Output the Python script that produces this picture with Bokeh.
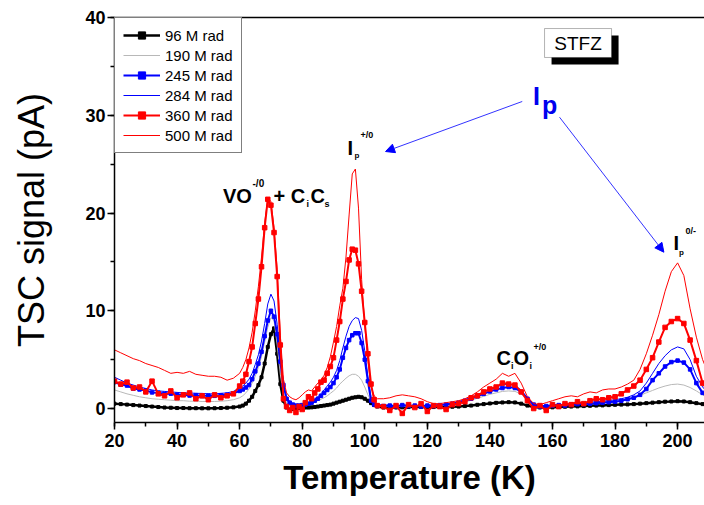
from bokeh.plotting import figure
from bokeh.models import (Range1d, LinearAxis, SingleIntervalTicker, FixedTicker,
                          Label, Arrow, NormalHead, BoxAnnotation)
from bokeh.embed import file_html
from bokeh.resources import INLINE

FONT = "Liberation Sans"

# Temperature sampling (K): coarse on the flat parts, 1 K through the two sharp peaks
temperature = list(range(20, 61, 2)) + list(range(61, 105)) + list(range(106, 211, 2))

# TSC signal (pA) for each irradiation dose
tsc_96 = [0.5, 0.45, 0.4, 0.35, 0.3, 0.25, 0.2, 0.15, 0.1, 0.08, 0.05, 0.05, 0.03, 0.03, 0.02, 0.02, 0.03, 0.05, 0.08, 0.12, 0.2,
          0.3, 0.5, 0.8, 1.2, 1.8, 2.4, 3.2, 4.6, 6.3, 7.6, 8.2, 5.6, 2.5, 0.8,
          0.1, -0.1, -0.05, 0.0, 0.05, 0.1, 0.1, 0.1, 0.12, 0.15,
          0.2, 0.25, 0.3, 0.35, 0.4, 0.5, 0.6, 0.7, 0.8, 0.9,
          1.0, 1.1, 1.15, 1.2, 1.15, 1.0, 0.8, 0.55, 0.35, 0.2,
          0.1, 0.08, 0.1, 0.12, 0.15, 0.15, 0.15, 0.15, 0.15, 0.15,
          0.15, 0.18, 0.2, 0.25, 0.3, 0.38, 0.45, 0.52, 0.58, 0.62,
          0.65, 0.62, 0.5, 0.3, 0.15, 0.1, 0.1, 0.12, 0.15, 0.18,
          0.2, 0.22, 0.25, 0.28, 0.3, 0.32, 0.35, 0.38, 0.4, 0.42,
          0.45, 0.5, 0.55, 0.6, 0.65, 0.7, 0.72, 0.75, 0.72, 0.65,
          0.55, 0.45, 0.38]

tsc_190 = [1.9, 1.7, 1.5, 1.35, 1.2, 1.1, 1.0, 0.95, 0.9, 0.85, 0.8, 0.8, 0.75, 0.75, 0.72, 0.72, 0.72, 0.75, 0.8, 0.9, 1.1,
           1.3, 1.6, 2.0, 2.6, 3.3, 4.2, 5.3, 6.8, 8.3, 9.3, 9.0, 6.5, 3.5, 1.5,
           0.6, 0.3, 0.25, 0.3, 0.35, 0.4, 0.45, 0.5, 0.6, 0.7,
           0.8, 0.95, 1.1, 1.3, 1.55, 1.8, 2.1, 2.5, 2.8, 3.1,
           3.35, 3.5, 3.5, 3.3, 2.9, 2.2, 1.4, 0.8, 0.45, 0.3,
           0.2, 0.2, 0.2, 0.2, 0.25, 0.25, 0.25, 0.25, 0.3, 0.3,
           0.35, 0.4, 0.5, 0.65, 0.85, 1.05, 1.25, 1.45, 1.6, 1.75,
           1.8, 1.75, 1.5, 1.0, 0.5, 0.3, 0.25, 0.3, 0.35, 0.4,
           0.45, 0.5, 0.55, 0.6, 0.65, 0.7, 0.75, 0.8, 0.9, 1.0,
           1.15, 1.35, 1.6, 1.85, 2.1, 2.3, 2.45, 2.5, 2.4, 2.15,
           1.8, 1.4, 1.0]

tsc_245 = [2.7, 2.45, 2.35, 2.05, 1.95, 1.85, 1.65, 1.62, 1.5, 1.52, 1.42, 1.4, 1.33, 1.37, 1.28, 1.32, 1.3, 1.36, 1.42, 1.55, 1.8,
           1.95, 2.15, 2.4, 3.0, 3.8, 4.6, 5.8, 7.4, 9.0, 10.0, 9.4, 7.6, 4.8, 2.4,
           1.0, 0.6, 0.4, 0.3, 0.3, 0.35, 0.4, 0.5, 0.6, 0.8,
           1.0, 1.3, 1.6, 1.9, 2.2, 2.6, 3.2, 4.0, 5.2, 6.2,
           7.0, 7.5, 7.7, 7.7, 6.7, 5.0, 2.8, 0.8, 0.4, 0.3,
           0.25, 0.3, 0.2, 0.35, 0.25, 0.3, 0.2, 0.3, 0.25, 0.35,
           0.4, 0.5, 0.6, 0.8, 1.0, 1.25, 1.5, 1.75, 1.95, 2.1,
           2.2, 2.1, 1.7, 1.0, 0.4, 0.2, 0.25, 0.3, 0.35, 0.3,
           0.4, 0.45, 0.45, 0.5, 0.55, 0.6, 0.65, 0.7, 0.8, 0.95,
           1.1, 1.4, 2.0, 2.9, 3.6, 4.3, 4.75, 4.9, 4.7, 4.0,
           2.6, 1.6, 1.0]

tsc_284 = [3.2, 2.9, 2.6, 2.4, 2.2, 2.05, 1.9, 1.8, 1.75, 1.7, 1.65, 1.6, 1.6, 1.55, 1.55, 1.5, 1.5, 1.55, 1.6, 1.75, 2.1,
           2.3, 2.6, 3.0, 3.6, 4.5, 5.5, 6.9, 8.7, 10.7, 11.7, 11.0, 8.6, 5.3, 2.6,
           1.2, 0.7, 0.5, 0.4, 0.4, 0.45, 0.5, 0.6, 0.75, 0.95,
           1.2, 1.5, 1.9, 2.3, 2.7, 3.2, 3.9, 4.9, 6.2, 7.4,
           8.4, 9.0, 9.3, 9.2, 8.0, 5.9, 3.3, 1.2, 0.6, 0.4,
           0.35, 0.35, 0.3, 0.35, 0.3, 0.3, 0.3, 0.35, 0.35, 0.4,
           0.45, 0.55, 0.7, 0.9, 1.15, 1.4, 1.7, 1.95, 2.2, 2.4,
           2.5, 2.35, 1.9, 1.1, 0.5, 0.3, 0.3, 0.35, 0.4, 0.45,
           0.5, 0.55, 0.6, 0.65, 0.7, 0.75, 0.8, 0.9, 1.0, 1.15,
           1.4, 1.8, 2.6, 3.6, 4.6, 5.4, 6.0, 6.3, 6.1, 5.0,
           3.3, 2.2, 1.5]

tsc_360 = [2.8, 2.5, 2.7, 2.1, 2.2, 1.7, 2.8, 1.5, 1.3, 1.8, 1.1, 1.4, 1.6, 1.0, 1.3, 0.9, 1.4, 1.1, 1.3, 1.5, 2.3,
           2.8, 3.5, 4.8, 6.3, 8.7, 11.2, 14.5, 18.5, 21.4, 20.8, 18.0, 13.5, 6.5, 1.0,
           0.2, -0.2, 0.1, -0.4, 0.2, -0.1, 0.6, 1.2, 1.0, 1.6,
           2.0, 2.7, 2.9, 3.6, 4.3, 5.2, 7.0, 8.9, 11.2, 13.0,
           15.2, 16.3, 16.2, 14.8, 12.0, 8.8, 5.6, 2.5, 0.9, 0.3,
           0.2, -0.2, 0.3, -0.5, 0.4, 0.1, 0.5, -0.3, 0.3, 0.2,
           -0.1, 0.4, 0.5, 0.7, 1.1, 1.3, 1.7, 2.0, 2.2, 2.6,
           2.5, 2.4, 1.7, 0.8, 0.0, 0.3, -0.2, 0.4, 0.2, 0.5,
           0.4, 0.7, 0.5, 0.8, 1.0, 0.9, 1.1, 1.2, 1.5, 1.9,
           2.3, 2.9, 4.0, 5.2, 6.8, 8.3, 8.9, 9.2, 8.7, 7.0,
           4.9, 2.6, 1.6]

tsc_500 = [6.0, 5.7, 5.4, 5.1, 4.9, 4.6, 4.4, 4.2, 3.9, 3.6, 3.7, 3.6, 3.8, 3.5, 3.4, 3.3, 3.3, 3.2, 2.9, 3.1, 3.6,
           4.2, 5.0, 6.2, 7.8, 10.0, 12.5, 15.5, 19.0, 21.5, 21.2, 18.5, 14.2, 7.5, 3.0,
           1.6, 1.2, 1.0, 0.9, 1.1, 1.4, 1.7, 1.9, 1.8, 2.2,
           2.6, 2.9, 3.4, 4.2, 5.3, 6.8, 8.4, 10.5, 12.3, 15.5,
           19.8, 24.0, 24.5, 20.5, 13.2, 8.5, 4.8, 2.2, 1.3, 1.0,
           1.0, 1.1, 1.3, 1.4, 1.3, 1.2, 1.0, 0.7, 0.5, 0.5,
           0.6, 0.7, 0.8, 1.0, 1.3, 1.7, 2.2, 2.6, 3.0, 3.6,
           3.3, 3.6, 2.6, 1.2, 0.5, 0.4, 0.6, 0.8, 1.0, 1.2,
           1.3, 1.2, 1.5, 1.7, 1.6, 1.9, 2.0, 2.0, 2.2, 2.5,
           2.9, 4.0, 5.6, 7.5, 9.6, 12.0, 14.0, 14.9, 13.6, 10.2,
           7.3, 5.0, 3.4]

doses = ["96 M rad", "190 M rad", "245 M rad", "284 M rad", "360 M rad", "500 M rad"]

for name, ys in zip(doses, [tsc_96, tsc_190, tsc_245, tsc_284, tsc_360, tsc_500]):
    if len(ys) != len(temperature):
        raise ValueError(f"{name}: {len(ys)} values for {len(temperature)} temperatures")

p = figure(width=704, height=505,
           x_range=Range1d(20, 208.6), y_range=Range1d(-1.43, 40),
           output_backend="svg", toolbar_location=None,
           min_border_left=114, min_border_right=0,
           min_border_top=17, min_border_bottom=83,
           x_axis_label="Temperature (K)", y_axis_label="TSC signal (pA)")
p.outline_line_color = None
p.grid.visible = False
p.background_fill_color = "white"
p.border_fill_color = "white"

# curves, lowest dose first
p.line(temperature, tsc_96, color="black", line_width=2.5, legend_label=doses[0])
p.scatter(temperature, tsc_96, marker="square", size=3, color="black", legend_label=doses[0])
p.line(temperature, tsc_190, color="#b8b8b8", line_width=1, legend_label=doses[1])
p.line(temperature, tsc_245, color="#0000ff", line_width=2, legend_label=doses[2])
p.scatter(temperature, tsc_245, marker="square", size=3.5, color="#0000ff", legend_label=doses[2])
p.line(temperature, tsc_284, color="#0000ff", line_width=1, legend_label=doses[3])
p.line(temperature, tsc_360, color="#ff0000", line_width=2, legend_label=doses[4])
p.scatter(temperature, tsc_360, marker="square", size=4.5, color="#ff0000", legend_label=doses[4])
p.line(temperature, tsc_500, color="#ff0000", line_width=1, legend_label=doses[5])

# axes
p.xaxis.ticker = SingleIntervalTicker(interval=20, num_minor_ticks=2)
p.yaxis.ticker = SingleIntervalTicker(interval=10, num_minor_ticks=2)
for ax in (p.xaxis[0], p.yaxis[0]):
    ax.axis_line_width = 1.5
    ax.major_tick_line_width = 1.5
    ax.minor_tick_line_width = 1.5
    ax.major_tick_in = 0
    ax.major_tick_out = 7
    ax.minor_tick_in = 0
    ax.minor_tick_out = 4
    ax.major_label_text_font = FONT
    ax.major_label_text_font_size = "18px"
    ax.major_label_text_font_style = "bold"
    ax.major_label_text_color = "black"
    ax.axis_label_text_font = FONT
    ax.axis_label_text_color = "black"
p.xaxis.axis_label_text_font_size = "33px"
p.xaxis.axis_label_text_font_style = "bold"
p.yaxis.axis_label_text_font_size = "36px"
p.yaxis.axis_label_text_font_style = "normal"
p.xaxis.major_label_standoff = 4
p.yaxis.major_label_standoff = 2
p.xaxis.axis_label_standoff = 9
p.yaxis.axis_label_standoff = 30

# top frame line
top = LinearAxis(ticker=FixedTicker(ticks=[]), major_label_text_font_size="0px",
                 major_tick_line_color=None, minor_tick_line_color=None, axis_line_width=1.5)
p.add_layout(top, "above")

# legend
lg = p.legend[0]
lg.location = "top_left"
lg.margin = 0
lg.padding = 8
lg.spacing = 2
lg.glyph_width = 37
lg.glyph_height = 18
lg.label_height = 18
lg.label_standoff = 5
lg.label_text_font = FONT
lg.label_text_font_size = "15px"
lg.label_text_color = "black"
lg.border_line_color = "black"
lg.border_line_width = 1
lg.background_fill_color = "white"
lg.background_fill_alpha = 1


def label(x, y, text, size, color="black", style="bold", baseline="alphabetic", align="left"):
    p.add_layout(Label(x=x, y=y, text=text, text_font=FONT, text_font_size=f"{size}px",
                       text_font_style=style, text_color=color,
                       text_baseline=baseline, text_align=align))


# sample tag with drop shadow
p.add_layout(BoxAnnotation(left=159.71, right=181.13, top=38.16, bottom=35.19,
                           fill_color="black", fill_alpha=1, line_color=None))
p.add_layout(BoxAnnotation(left=157.47, right=178.89, top=38.87, bottom=35.91,
                           fill_color="white", fill_alpha=1, line_color="black", line_width=1))
label(168.18, 37.39, "STFZ", 19, style="normal", baseline="middle", align="center")

# peak assignments
label(54.69, 21.79, "VO", 20)
label(64.12, 23.02, "-/0", 10)
label(70.83, 21.79, "+ C", 20)
label(81.38, 20.97, "i", 9)
label(82.66, 21.79, "C", 20)
label(87.14, 20.97, "s", 9)

label(94.49, 26.70, "I", 20)
label(96.73, 25.88, "p", 8)
label(98.65, 27.93, "+/0", 9)

label(142.12, 5.12, "C", 20)
label(146.76, 4.40, "i", 9)
label(147.56, 5.12, "O", 20)
label(152.67, 4.40, "i", 9)
label(153.95, 6.34, "+/0", 9)

label(198.71, 16.98, "I", 20)
label(200.47, 15.96, "p", 8)
label(202.55, 18.11, "0/-", 9)

# I_p marker with arrows to both peaks
label(153.79, 32.02, "I", 25, color="#0000ee")
label(156.67, 31.10, "p", 25, color="#0000ee")
for xs, ys, xe, ye in [(150.34, 31.41, 106.64, 26.29), (162.26, 29.80, 195.61, 15.99)]:
    p.add_layout(Arrow(end=NormalHead(size=9, fill_color="#0000ff", line_color="#0000ff"),
                       x_start=xs, y_start=ys, x_end=xe, y_end=ye,
                       line_color="#3333ff", line_width=1))

open("out.html", "w").write(file_html(p, INLINE))
